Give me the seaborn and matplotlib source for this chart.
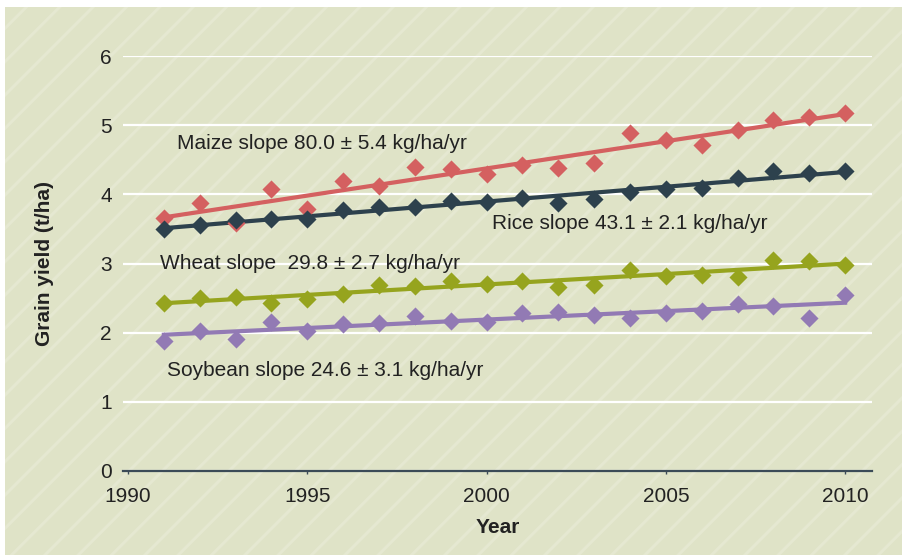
import numpy as np
import pandas as pd
import matplotlib
matplotlib.use("Agg")
import matplotlib.pyplot as plt
from matplotlib.patches import Rectangle
import seaborn as sns

years = list(range(1991, 2011))
maize = [3.66, 3.87, 3.59, 4.08, 3.79, 4.19, 4.12, 4.40, 4.37, 4.29,
         4.42, 4.38, 4.45, 4.88, 4.78, 4.71, 4.93, 5.07, 5.12, 5.18]
rice = [3.50, 3.55, 3.63, 3.64, 3.65, 3.78, 3.82, 3.81, 3.90, 3.89,
        3.94, 3.87, 3.93, 4.04, 4.07, 4.09, 4.24, 4.34, 4.31, 4.34]
wheat = [2.43, 2.50, 2.51, 2.43, 2.48, 2.56, 2.69, 2.68, 2.74, 2.70,
         2.74, 2.66, 2.69, 2.91, 2.82, 2.83, 2.81, 3.05, 3.03, 2.98]
soybean = [1.88, 2.02, 1.91, 2.15, 2.02, 2.12, 2.14, 2.24, 2.17, 2.15,
           2.29, 2.30, 2.26, 2.21, 2.29, 2.32, 2.42, 2.39, 2.21, 2.54]

crops = ["Maize", "Rice", "Wheat", "Soybean"]
labels = ["Maize slope 80.0 \u00b1 5.4 kg/ha/yr",
          "Rice slope 43.1 \u00b1 2.1 kg/ha/yr",
          "Wheat slope  29.8 \u00b1 2.7 kg/ha/yr",
          "Soybean slope 24.6 \u00b1 3.1 kg/ha/yr"]
x_ticks = [1990, 1995, 2000, 2005, 2010]
y_ticks = [0, 1, 2, 3, 4, 5, 6]

colors = {"Maize": "#d46060", "Rice": "#2d414d", "Wheat": "#96a41e", "Soybean": "#927ab4"}
label_pos = {"Maize": (1991.37, 4.654), "Rice": (2000.15, 3.497),
             "Wheat": (1990.89, 2.918), "Soybean": (1991.08, 1.369)}

df = pd.DataFrame({"Year": years * 4,
                   "Yield": maize + rice + wheat + soybean,
                   "Crop": sum([[c] * len(years) for c in crops], [])})

plt.rcParams["font.family"] = ["Liberation Sans", "DejaVu Sans"]
plt.rcParams["hatch.linewidth"] = 2.2

fig = plt.figure(figsize=(9.02, 5.55), dpi=100, facecolor="white")
bg = Rectangle((5 / 902, 0), 1 - 5 / 902, 548 / 555, transform=fig.transFigure,
               facecolor="#dfe3c7", edgecolor="#e5e8d1", linewidth=0, hatch="/", zorder=-10)
fig.add_artist(bg)

ax = fig.add_axes([123 / 902, 84 / 555, 749 / 902, 415 / 555])
ax.set_facecolor("none")

for crop in crops:
    sub = df[df["Crop"] == crop]
    sns.regplot(data=sub, x="Year", y="Yield", ax=ax, ci=None, marker="D",
                color=colors[crop],
                scatter_kws={"s": 85, "alpha": 1, "linewidths": 0, "zorder": 3},
                line_kws={"lw": 3, "zorder": 2})

for crop, lab in zip(crops, labels):
    x0, y0 = label_pos[crop]
    ax.text(x0, y0, lab, fontsize=15, color="#222222", ha="left", va="baseline", zorder=4)

ax.set_xlim(1989.86, 2010.75)
ax.set_ylim(0, 6)
ax.set_xticks(x_ticks)
ax.set_yticks(y_ticks)
ax.set_axisbelow(True)
ax.yaxis.grid(True, color="white", lw=1.6)
ax.xaxis.grid(False)
for s in ["top", "right", "left"]:
    ax.spines[s].set_visible(False)
ax.spines["bottom"].set_color("#3b4b57")
ax.spines["bottom"].set_linewidth(1.6)
ax.spines["bottom"].set_zorder(5)
ax.tick_params(axis="x", direction="out", length=2.5, width=1, color="#3b4b57",
               labelsize=15, labelcolor="#222222", pad=9)
ax.tick_params(axis="y", length=0, labelsize=15, labelcolor="#222222", pad=8)
ax.set_xlabel("Year", fontsize=15, fontweight="bold", color="#222222", labelpad=9)
ax.set_ylabel("Grain yield (t/ha)", fontsize=15, fontweight="bold", color="#222222", labelpad=33)

fig.savefig("out.png", dpi=100, facecolor="white")
